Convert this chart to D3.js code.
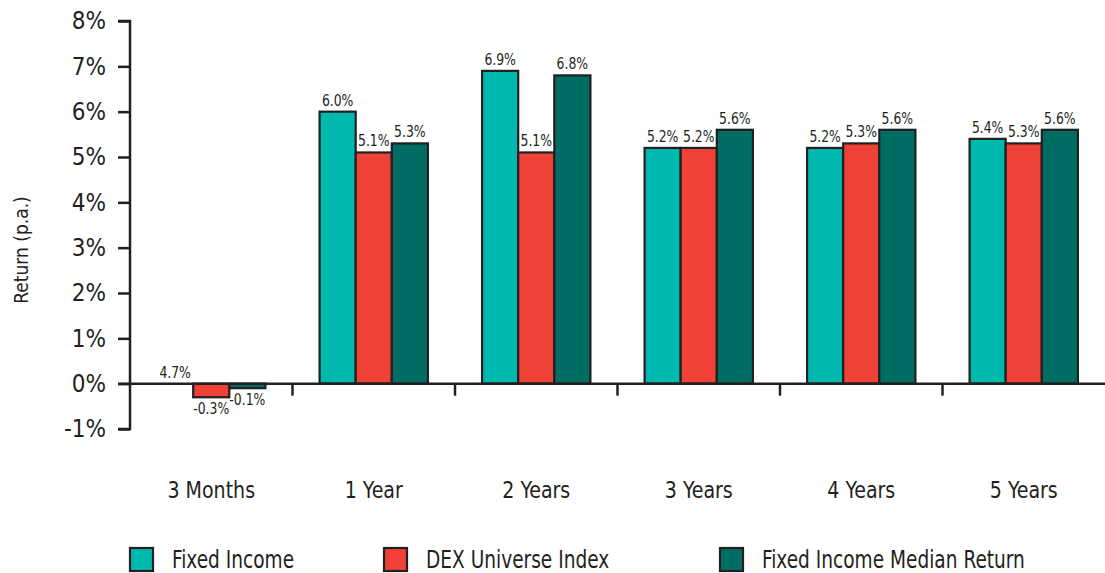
<!DOCTYPE html>
<html>
<head>
<meta charset="utf-8">
<script src="https://cdn.jsdelivr.net/npm/d3@7"></script>
<style>
  html, body { margin: 0; padding: 0; background: #fff; }
  svg { display: block; }
  text { font-family: "DejaVu Sans Condensed", "Liberation Sans Narrow", sans-serif; fill: #231f20; }
</style>
</head>
<body>
<svg id="chart" width="1105" height="573"></svg>
<script>
// Periods shown along the x axis
const periods = ["3 Months", "1 Year", "2 Years", "3 Years", "4 Years", "5 Years"];
const seriesNames = ["Fixed Income", "DEX Universe Index", "Fixed Income Median Return"];

// Returns (% p.a.) per series; null = no bar drawn
const fixedIncome = [null, 6.0, 6.9, 5.2, 5.2, 5.4];
const dexUniverse = [-0.3, 5.1, 5.1, 5.2, 5.3, 5.3];
const medianReturn = [-0.1, 5.3, 6.8, 5.6, 5.6, 5.6];

// Printed value labels
const fixedIncomeLabels = ["4.7%", "6.0%", "6.9%", "5.2%", "5.2%", "5.4%"];
const dexUniverseLabels = ["-0.3%", "5.1%", "5.1%", "5.2%", "5.3%", "5.3%"];
const medianReturnLabels = ["-0.1%", "5.3%", "6.8%", "5.6%", "5.6%", "5.6%"];

const yTicks = [-1, 0, 1, 2, 3, 4, 5, 6, 7, 8];
const colors = ["#00b9ae", "#ef4136", "#006d65"];

const svg = d3.select("#chart");
const ink = "#231f20";

const x = d3.scaleBand().domain(periods).range([130, 1105]).paddingInner(0).paddingOuter(0);
const xs = d3.scaleBand().domain(seriesNames)
  .range([x.bandwidth() / 6, x.bandwidth() * 5 / 6]);
const y = d3.scaleLinear().domain([-1, 8]).range([429, 21]);

const values = [fixedIncome, dexUniverse, medianReturn];
const labels = [fixedIncomeLabels, dexUniverseLabels, medianReturnLabels];

const rows = [];
periods.forEach((p, i) => {
  seriesNames.forEach((s, j) => {
    rows.push({ period: p, series: s, idx: j, value: values[j][i], label: labels[j][i] });
  });
});

// Bars
svg.append("g").selectAll("rect")
  .data(rows.filter(d => d.value !== null))
  .join("rect")
  .attr("x", d => x(d.period) + xs(d.series))
  .attr("width", xs.bandwidth())
  .attr("y", d => y(Math.max(0, d.value)))
  .attr("height", d => Math.abs(y(d.value) - y(0)))
  .attr("fill", d => colors[d.idx])
  .attr("stroke", ink)
  .attr("stroke-width", 2.2);

// Value labels
svg.append("g").selectAll("text")
  .data(rows)
  .join("text")
  .attr("transform", d => {
    const v = d.value === null ? 0 : d.value;
    const cx = x(d.period) + xs(d.series) + xs.bandwidth() / 2;
    const cy = v < 0 ? y(v) + 17 : y(v) - 6;
    return `translate(${cx},${cy}) scale(0.92,1)`;
  })
  .attr("text-anchor", "middle")
  .attr("font-size", 15)
  .text(d => d.label);

// Y axis
const yAxis = svg.append("g")
  .attr("transform", "translate(130,0)")
  .call(d3.axisLeft(y).tickValues(yTicks).tickFormat(d => d + "%").tickSize(12).tickPadding(12));
yAxis.select(".domain").attr("stroke", ink).attr("stroke-width", 2.5)
  .attr("d", `M-12,${y(8)}H0V${y(-1)}H-12`);
yAxis.selectAll(".tick line").attr("stroke", ink).attr("stroke-width", 2.5);
yAxis.selectAll(".tick text").attr("font-size", 24).attr("fill", ink)
  .style("font-family", "'DejaVu Sans Condensed', sans-serif");

// Zero line with category separators
svg.append("line")
  .attr("x1", 118).attr("x2", 1105)
  .attr("y1", y(0)).attr("y2", y(0))
  .attr("stroke", ink).attr("stroke-width", 2.5);
svg.append("g").selectAll("line")
  .data(periods.slice(1))
  .join("line")
  .attr("x1", d => x(d)).attr("x2", d => x(d))
  .attr("y1", y(0)).attr("y2", y(0) + 12)
  .attr("stroke", ink).attr("stroke-width", 2.5);

// Category labels
svg.append("g").selectAll("text")
  .data(periods)
  .join("text")
  .attr("transform", d => `translate(${x(d) + x.bandwidth() / 2},498) scale(0.92,1)`)
  .attr("text-anchor", "middle")
  .attr("font-size", 23)
  .text(d => d);

// Y axis title
svg.append("text")
  .attr("transform", "translate(28,250) rotate(-90)")
  .attr("text-anchor", "middle")
  .attr("font-size", 19)
  .text("Return (p.a.)");

// Legend
const legendX = [130, 384, 720];
const legend = svg.append("g").selectAll("g")
  .data(seriesNames)
  .join("g")
  .attr("transform", (d, i) => `translate(${legendX[i]},548)`);
legend.append("rect")
  .attr("width", 23).attr("height", 23)
  .attr("fill", (d, i) => colors[i])
  .attr("stroke", ink).attr("stroke-width", 2.2);
legend.append("text")
  .attr("transform", "translate(42,20) scale(0.86,1)")
  .attr("font-size", 24)
  .text(d => d);
</script>
</body>
</html>
